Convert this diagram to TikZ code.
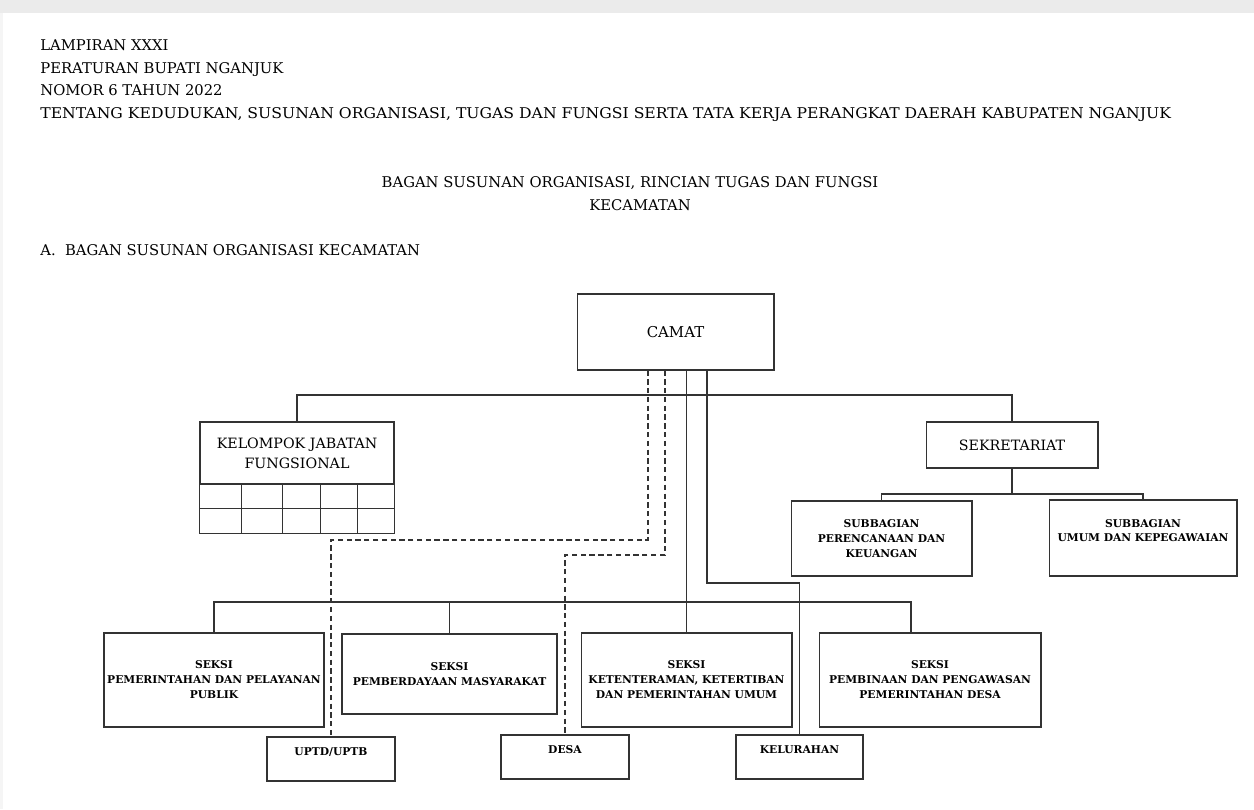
\documentclass[tikz,border=0pt]{standalone}
\usepackage{fontspec}
\setmainfont{DejaVu Serif}
\newfontfamily\widefont[FakeStretch=1.06]{DejaVu Serif}
\usetikzlibrary{calc,positioning}

\newcommand\hdrsize{\fontsize{8.4}{12.9}\selectfont}
\newcommand\boxsize{\fontsize{8.1}{11.5}\selectfont}
\newcommand\unitsize{\bfseries\fontsize{6.1}{8.5}\selectfont}

\tikzset{
	box/.style={draw=black!80,line width=0.6pt,align=center,inner sep=0pt,font=\boxsize},
	unitbox/.style={box,font=\unitsize},
	hdr/.style={anchor=west,inner sep=0pt,font=\hdrsize,text height=1.6ex,text depth=.4ex},
	link/.style={draw=black!80,line width=0.6pt},
	dashlink/.style={link,dash pattern=on 3pt off 2pt},
}

\begin{document}
\begin{tikzpicture}[x=0.02cm,y=-0.02cm]
	\useasboundingbox (0,0) rectangle (1254,809);
	\fill[black!8] (0,0) rectangle (1254,13);
	\fill[black!4] (0,13) rectangle (3,809);
	% kepala lampiran
	\node(lamp) [hdr] at (40,45) {LAMPIRAN XXXI};
	\node(perbup) [hdr] at (40,68) {PERATURAN BUPATI NGANJUK};
	\node(nomor) [hdr] at (40,90) {NOMOR 6 TAHUN 2022};
	\node(tentang) [hdr] at (40,113) {\widefont TENTANG KEDUDUKAN, SUSUNAN ORGANISASI, TUGAS DAN FUNGSI SERTA TATA KERJA PERANGKAT DAERAH KABUPATEN NGANJUK};
	\node(judul) [hdr,anchor=center] at (630,182) {BAGAN SUSUNAN ORGANISASI, RINCIAN TUGAS DAN FUNGSI};
	\node(judulb) [hdr,anchor=center] at (640,205) {KECAMATAN};
	\node(bagan) [hdr] at (40,250) {A.\ \ BAGAN SUSUNAN ORGANISASI KECAMATAN};
	% kotak
	\node(camat) [box,minimum width=3.94cm,minimum height=1.52cm,font=\fontsize{8.5}{11}\selectfont] at (675.5,332) {CAMAT};
	\node(kjf) [box,minimum width=3.88cm,minimum height=1.24cm] at (297,453) {KELOMPOK JABATAN\\FUNGSIONAL};
	\node(sekre) [box,minimum width=3.44cm,minimum height=0.92cm] at (1012,445) {SEKRETARIAT};
	\node(subA) [unitbox,minimum width=3.62cm,minimum height=1.5cm] at (881.5,538.5) {SUBBAGIAN\\PERENCANAAN DAN\\KEUANGAN};
	\node(subB) [unitbox,minimum width=3.76cm,minimum height=1.52cm] at (1143,538) {SUBBAGIAN\\UMUM DAN KEPEGAWAIAN\\\mbox{}};
	\node(seksiA) [unitbox,minimum width=4.4cm,minimum height=1.88cm] at (214,680) {SEKSI\\PEMERINTAHAN DAN PELAYANAN\\PUBLIK};
	\node(seksiB) [unitbox,minimum width=4.3cm,minimum height=1.6cm] at (449.5,674) {SEKSI\\PEMBERDAYAAN MASYARAKAT};
	\node(seksiC) [unitbox,minimum width=4.22cm,minimum height=1.88cm] at (686.5,680) {SEKSI\\KETENTERAMAN, KETERTIBAN\\DAN PEMERINTAHAN UMUM};
	\node(seksiD) [unitbox,minimum width=4.44cm,minimum height=1.88cm] at (930,680) {SEKSI\\PEMBINAAN DAN PENGAWASAN\\PEMERINTAHAN DESA};
	\node(uptd) [unitbox,minimum width=2.56cm,minimum height=0.88cm] at (331,759) {UPTD/UPTB\\\mbox{}};
	\node(desa) [unitbox,minimum width=2.56cm,minimum height=0.88cm] at (565,757) {DESA\\\mbox{}};
	\node(kel) [unitbox,minimum width=2.54cm,minimum height=0.88cm] at (799.5,757) {KELURAHAN\\\mbox{}};
	% sel jabatan fungsional
	\draw[link] (kjf.south west) rectangle ($(kjf.south east)+(0,49)$);
	\draw[link] ($(kjf.south west)+(0,24)$) -- ($(kjf.south east)+(0,24)$);
	\foreach \cx in {42,83,121,158}
		\draw[link] ($(kjf.south west)+(\cx,0)$) -- ++(0,49);
	% garis
	\coordinate(busTop) at (0,395);
	\coordinate(busSek) at (0,494);
	\coordinate(busLow) at (0,602);
	\coordinate(uptdBend) at (0,540);
	\coordinate(desaBend) at (0,555);
	\coordinate(kelBend) at (0,583);
	\coordinate(dtap) at ([xshift=-0.38cm]seksiD.north);
	\draw[link] (kjf.north) |- (busTop -| sekre.north) -- (sekre.north);
	\draw[link] (sekre.south) -- (sekre.south |- busSek);
	\draw[link] (subA.north) |- (busSek -| subB.north) -- (subB.north);
	\draw[link] (camat.south -| seksiC.north) -- (seksiC.north);
	\draw[link] (seksiA.north) |- (busLow -| dtap) -- (dtap);
	\draw[link] (seksiB.north) -- (seksiB.north |- busLow);
	\draw[link] ([xshift=0.63cm]camat.south) |- (kelBend -| kel.north) -- (kel.north);
	\draw[dashlink] ([xshift=-0.55cm]camat.south) |- (uptdBend -| uptd.north) -- (uptd.north);
	\draw[dashlink] ([xshift=-0.21cm]camat.south) |- (desaBend -| desa.north) -- (desa.north);
\end{tikzpicture}
\end{document}
